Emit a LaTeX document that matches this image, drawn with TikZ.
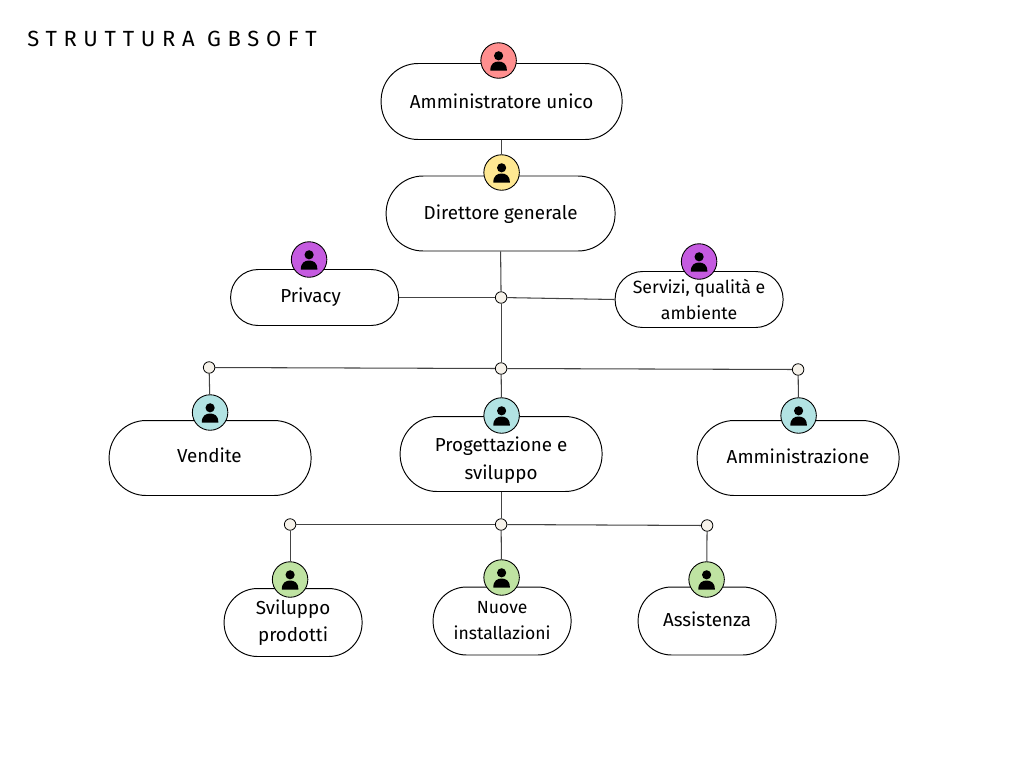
\documentclass[tikz,border=0pt]{standalone}
\usepackage{fontspec}
\usepackage{xcolor}
\setmainfont{Fira Sans}[BoldFont={Fira Sans}]
\newfontfamily\titlefont[LetterSpace=30.5]{Fira Sans}
\usetikzlibrary{positioning}
\definecolor{badgered}{HTML}{FF8F8F}
\definecolor{badgeyellow}{HTML}{FFE892}
\definecolor{badgepurple}{HTML}{C55BE0}
\definecolor{badgeteal}{HTML}{B2E3E3}
\definecolor{badgegreen}{HTML}{BFE3A2}
\definecolor{junctionfill}{HTML}{F6F2EA}
\definecolor{linkgrey}{HTML}{444444}

\begin{document}
\begin{tikzpicture}[
    x=0.02cm, y=-0.02cm,
    pill/.style={draw=black, fill=white, line width=0.55pt, align=center, font=\fontsize{10.7}{15.6}\selectfont, inner sep=0pt},
    bigpill/.style={pill, minimum width=4.04cm, minimum height=1.5cm, rounded corners=0.74cm},
    midpill/.style={pill, minimum width=3.36cm, minimum height=1.12cm, rounded corners=0.55cm},
    smallpill/.style={pill, minimum width=2.76cm, minimum height=1.36cm, rounded corners=0.67cm},
    badge/.style={circle, draw=black, line width=0.5pt, minimum size=0.71cm, inner sep=0pt},
    junction/.style={circle, draw=black, line width=0.45pt, fill=junctionfill, minimum size=0.23cm, inner sep=0pt},
    link/.style={draw=linkgrey, line width=0.6pt},
    person/.pic={
        \fill[black] (0,-4.7) circle [radius=4.6];
        \fill[black] (-8.2,10) .. controls (-8.5,3) and (-4,1) .. (0,1) .. controls (4,1) and (8.5,3) .. (8.2,10) -- cycle;
    }
]
\useasboundingbox (-0.1,-0.5) rectangle (1023.9,767.5);
\fill[white] (-0.1,-0.5) rectangle (1023.9,767.5);

\node[anchor=west, inner sep=0pt, font=\titlefont\fontsize{12.5}{14}\selectfont] (title) at (27,38.5) {STRUTTURA GBSOFT};

% boxes
\node[bigpill, minimum width=4.82cm, minimum height=1.52cm] (amm) at (501.5,101) {Amministratore unico};
\node[bigpill, minimum width=4.58cm, text height=9.5pt] (dir) at (500.5,213) {Direttore generale};
\node[midpill] (priv) at (314.5,297) {Privacy\hspace*{0.16cm}};
\node[midpill, font=\fontsize{10.1}{14.4}\selectfont] (serv) at (699,299) {Servizi, qualità e\\ambiente};
\node[bigpill, text depth=3pt] (vend) at (210,457.5) {Vendite\hspace*{0.03cm}};
\node[bigpill, text height=31pt] (prog) at (501,453.5) {Progettazione e\\sviluppo};
\node[bigpill, text depth=2pt] (admin) at (798,457.5) {Amministrazione};
\node[smallpill] (svil) at (293,622) {Sviluppo\\prodotti};
\node[smallpill, font=\fontsize{10}{14.8}\selectfont] (nuove) at (502,620.5) {Nuove\\installazioni};
\node[smallpill, text depth=2.2pt] (assist) at (707,620.5) {Assistenza};

% badges
\node[badge, fill=badgered] (bamm) at (498.5,60) {};
\node[badge, fill=badgeyellow] (bdir) at (501.5,172) {};
\node[badge, fill=badgepurple] (bpriv) at (309,259) {};
\node[badge, fill=badgepurple] (bserv) at (699,261) {};
\node[badge, fill=badgeteal] (bvend) at (210,412) {};
\node[badge, fill=badgeteal] (bprog) at (501.5,415) {};
\node[badge, fill=badgeteal] (badmin) at (798.5,415) {};
\node[badge, fill=badgegreen] (bsvil) at (290,579) {};
\node[badge, fill=badgegreen] (bnuove) at (501.5,577) {};
\node[badge, fill=badgegreen] (bassist) at (706.5,579) {};
\foreach \b in {bamm,bdir,bpriv,bserv,bvend,bprog,badmin,bsvil,bnuove,bassist}
    \pic at (\b) {person};

% junctions
\node[junction] (j1) at (501,297) {};
\node[junction] (j2) at (501,368) {};
\node[junction] (j3) at (209,367) {};
\node[junction] (j4) at (798,369) {};
\node[junction] (j5) at (501,524) {};
\node[junction] (j6) at (290,524) {};
\node[junction] (j7) at (707,525) {};

% links
\draw[link] (amm.south) -- (bdir);
\draw[link] (dir.south) -- (j1);
\draw[link] (j1) -- (priv.east);
\draw[link] (j1) -- (serv.west);
\draw[link] (j1) -- (j2);
\draw[link] (j2) -- (j3);
\draw[link] (j2) -- (j4);
\draw[link] (j2) -- (bprog);
\draw[link] (j3) -- (bvend);
\draw[link] (j4) -- (badmin);
\draw[link] (prog.south) -- (j5);
\draw[link] (j5) -- (j6);
\draw[link] (j5) -- (j7);
\draw[link] (j5) -- (bnuove);
\draw[link] (j6) -- (bsvil);
\draw[link] (j7) -- (bassist);
\end{tikzpicture}
\end{document}
